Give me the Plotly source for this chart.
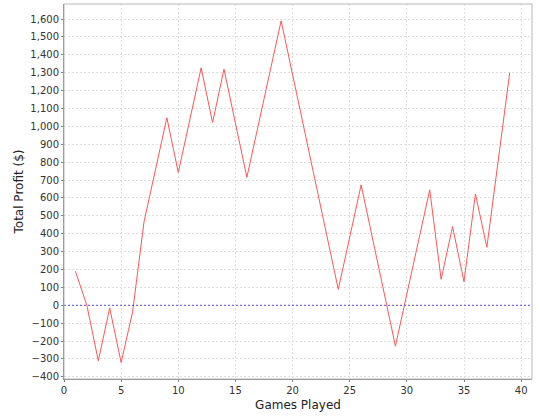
import plotly.graph_objects as go

games = [1, 2, 3, 4, 5, 6, 7, 9, 10, 12, 13, 14, 16, 19, 24, 26, 29, 32, 33, 34, 35, 36, 37, 39]
profit = [190, 0, -310, -15, -320, -38, 466, 1048, 742, 1327, 1022, 1320, 715, 1590, 89, 673, -228, 645, 145, 440, 132, 622, 324, 1300]

x_range = [0, 40.95]
y_range = [-412, 1684]

fig = go.Figure()
fig.add_trace(go.Scatter(x=games, y=profit, mode="lines",
                         line=dict(color="#FF5555", width=1), showlegend=False))

fig.add_shape(type="line", xref="x", yref="y", x0=x_range[0], x1=x_range[1], y0=0, y1=0,
              line=dict(color="#5555dd", width=1, dash="2px,2px"))
fig.add_shape(type="rect", xref="paper", yref="paper", x0=0, x1=1, y0=0, y1=1,
              line=dict(color="#b8b8b8", width=1), layer="above")

font = "DejaVu Sans, sans-serif"
fig.update_layout(
    width=540, height=420,
    margin=dict(l=64, r=8, t=4, b=41),
    paper_bgcolor="white", plot_bgcolor="white",
    font=dict(family=font, size=10, color="#333333"),
    xaxis=dict(range=x_range, dtick=5, tick0=0, showgrid=True, gridcolor="#dedede",
               griddash="2px,2px", gridwidth=1, zeroline=False, showline=True,
               linecolor="#808080", linewidth=1, ticks="outside", ticklen=2,
               tickcolor="#808080", automargin=False,
               title=dict(text="Games Played", font=dict(size=12, color="#222222"), standoff=5)),
    yaxis=dict(range=y_range, dtick=100, tick0=0, tickformat=",", showgrid=True,
               gridcolor="#dedede", griddash="2px,2px", gridwidth=1, zeroline=False,
               showline=True, linecolor="#808080", linewidth=1, ticks="outside",
               ticklen=2, tickcolor="#808080", automargin=False,
               title=dict(text="Total Profit ($)", font=dict(size=12, color="#222222"), standoff=4)),
)

fig.write_html("out.html", config={"displayModeBar": False},
               post_script="document.body.style.margin='0px';")
